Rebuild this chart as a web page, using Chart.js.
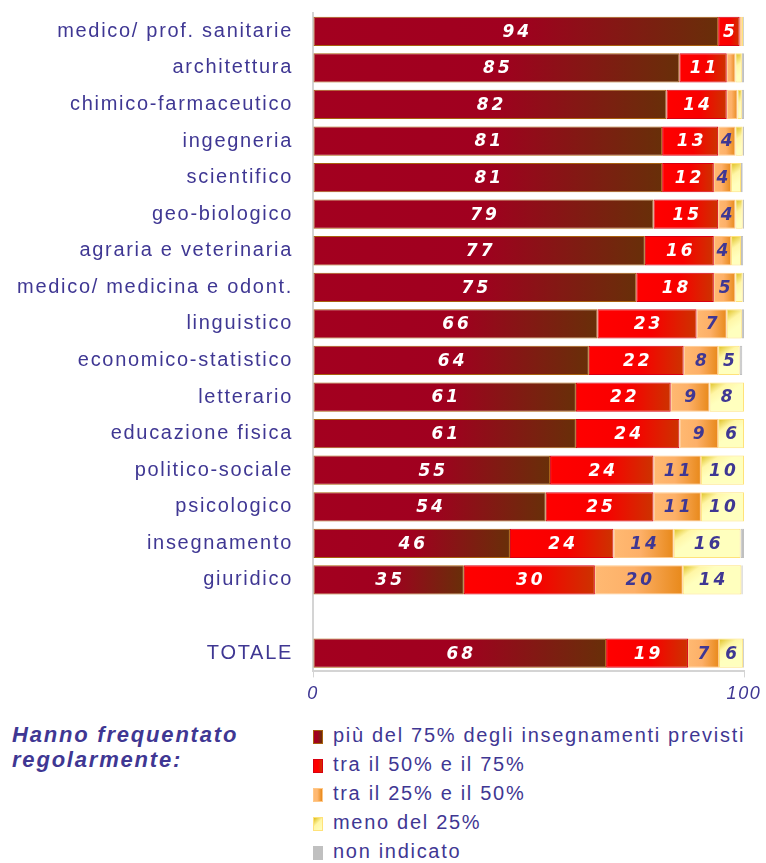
<!DOCTYPE html>
<html>
<head>
<meta charset="utf-8">
<script src="https://cdn.jsdelivr.net/npm/chart.js@4.4.1/dist/chart.umd.min.js"></script>
<style>
  body { margin: 0; background: #fff; }
  #wrap { position: relative; width: 766px; height: 863px; }
  #box { position: absolute; left: 0; top: 0; width: 766px; height: 713px; }
  #title {
    position: absolute; left: 12px; top: 722px;
    font: italic bold 22px "Liberation Sans", Arial, sans-serif;
    letter-spacing: 1.8px; line-height: 25px; color: #3f3793;
  }
  .item {
    position: absolute; left: 313px; height: 29px;
    font: 20px "Liberation Sans", Arial, sans-serif;
    letter-spacing: 1.7px; color: #3f3793; white-space: nowrap;
  }
  .item span {
    position: absolute; left: 0; top: 7px; width: 10px; height: 14px;
    box-sizing: border-box;
  }
  .item b { position: absolute; left: 20px; top: 1px; font-weight: normal; }
</style>
</head>
<body>
<div id="wrap">
  <div id="box"><canvas id="grafico"></canvas></div>
  <div id="title">Hanno frequentato<br>regolarmente:</div>
  <div id="legenda"></div>
</div>
<script>
// Categorie (corsi di laurea)
var categorie = [
  "medico/ prof. sanitarie", "architettura", "chimico-farmaceutico", "ingegneria",
  "scientifico", "geo-biologico", "agraria e veterinaria", "medico/ medicina e odont.",
  "linguistico", "economico-statistico", "letterario", "educazione fisica",
  "politico-sociale", "psicologico", "insegnamento", "giuridico", "", "TOTALE"
];

// Serie (percentuali)
var oltre75 = [94, 85, 82, 81, 81, 79, 77, 75, 66, 64, 61, 61, 55, 54, 45.7, 35, null, 68];
var tra50e75 = [5, 11, 14, 13, 12, 15, 16, 18, 23, 22, 22, 24, 24, 25, 24, 30.4, null, 19];
var tra25e50 = [0.5, 2, 2.5, 4, 4, 4, 4, 5, 7, 8, 9, 9, 11, 11, 14, 20.4, null, 7.2];
var meno25 = [0.3, 1.5, 1, 1.7, 2.3, 1.7, 2.3, 1.7, 3.5, 5, 8, 6, 10, 10, 15.5, 13.6, null, 5.6];
var nonIndicato = [0.2, 0.5, 0.5, 0.3, 0.4, 0.3, 0.5, 0.3, 0.5, 0.6, 0, 0, 0, 0, 0.8, 0.3, null, 0.2];

var etichette = [
  "più del 75% degli insegnamenti previsti",
  "tra il 50% e il 75%",
  "tra il 25% e il 50%",
  "meno del 25%",
  "non indicato"
];
var tickAsse = [0, 100];

var blu = "#3f3793";
var font = '"Liberation Sans", Arial, sans-serif';

// Gradiente per ogni segmento, calcolato dalle scale
function gradiente(stops, diag) {
  return function (c) {
    var chart = c.chart;
    var last = stops[stops.length - 1][1];
    if (c.type !== "data" || !chart.chartArea || !chart.scales.x) return last;
    var i = c.dataIndex, d = c.datasetIndex;
    var start = 0;
    for (var k = 0; k < d; k++) start += chart.data.datasets[k].data[i] || 0;
    var v = chart.data.datasets[d].data[i] || 0;
    var x0 = chart.scales.x.getPixelForValue(start);
    var x1 = chart.scales.x.getPixelForValue(start + v);
    var g;
    if (diag) {
      var yc = chart.scales.y.getPixelForValue(i);
      g = chart.ctx.createLinearGradient(x0, yc - 15, x0 + 12, yc + 2);
    } else {
      g = chart.ctx.createLinearGradient(x0, 0, Math.max(x1, x0 + 1), 0);
    }
    stops.forEach(function (s) { g.addColorStop(s[0], s[1]); });
    return g;
  };
}

var stili = [
  { stops: [[0, "#a3001f"], [0.5, "#a0001f"], [1, "#682f09"]], bordo: "#a8600e", testo: "#ffffff" },
  { stops: [[0, "#ff0000"], [0.55, "#f80000"], [1, "#cc3300"]], bordo: "#d80010", testo: "#ffffff" },
  { stops: [[0, "#ffb972"], [0.45, "#fdb068"], [1, "#e8891a"]], bordo: "#ffc888", testo: blu },
  { stops: [[0, "#dcbc18"], [0.55, "#fff6a6"], [1, "#ffffbe"]], bordo: "#ffe27a", testo: blu, diag: true },
  { stops: [[0, "#c0c0c0"], [1, "#c0c0c0"]], bordo: "#c0c0c0", testo: blu }
];
var serie = [oltre75, tra50e75, tra25e50, meno25, nonIndicato];

var datasets = serie.map(function (dati, n) {
  return {
    label: etichette[n],
    data: dati,
    backgroundColor: gradiente(stili[n].stops, stili[n].diag),
    borderColor: stili[n].bordo,
    borderWidth: 1,
    borderSkipped: false,
    barPercentage: 0.8,
    categoryPercentage: 1
  };
});

// Etichette dei valori dentro le barre
var valoriPlugin = {
  id: "valori",
  beforeDraw: function (chart) {
    chart.ctx.letterSpacing = "1.7px";
  },
  afterDatasetsDraw: function (chart) {
    var ctx = chart.ctx;
    ctx.save();
    ctx.letterSpacing = "3px";
    ctx.font = 'italic bold 17px "DejaVu Sans", sans-serif';
    ctx.textAlign = "center";
    ctx.textBaseline = "middle";
    chart.data.datasets.forEach(function (ds, d) {
      if (d > 3) return;
      var meta = chart.getDatasetMeta(d);
      meta.data.forEach(function (el, i) {
        var v = ds.data[i];
        if (v == null || v < 4) return;
        ctx.fillStyle = stili[d].testo;
        ctx.fillText(String(Math.round(v)), (el.x + el.base) / 2 + 1.5, el.y + 1);
      });
    });
    ctx.restore();
  }
};

var ctx = document.getElementById("grafico").getContext("2d");
var grafico = new Chart(ctx, {
  type: "bar",
  data: { labels: categorie, datasets: datasets },
  plugins: [valoriPlugin],
  options: {
    indexAxis: "y",
    responsive: true,
    maintainAspectRatio: false,
    animation: false,
    layout: { padding: { left: 0, right: 22, top: 13, bottom: 2 } },
    plugins: { legend: { display: false }, tooltip: { enabled: false } },
    scales: {
      x: {
        stacked: true,
        min: 0,
        max: 100,
        afterBuildTicks: function (s) {
          s.ticks = tickAsse.map(function (v) { return { value: v }; });
        },
        grid: { display: true, drawOnChartArea: false, drawTicks: true, tickLength: 6, color: "#d4d4d4" },
        border: { display: true, color: "#d4d4d4", width: 2 },
        ticks: {
          color: blu,
          font: { family: font, size: 18, style: "italic" },
          padding: 6,
          maxRotation: 0
        }
      },
      y: {
        stacked: true,
        grid: { display: false },
        border: { display: true, color: "#d4d4d4", width: 2 },
        afterFit: function (s) {
          s.width = 313;
          s.paddingTop = 0;
          s.paddingBottom = 0;
        },
        ticks: {
          color: blu,
          font: { family: font, size: 20 },
          padding: 12,
          autoSkip: false
        }
      }
    }
  }
});

// Legenda HTML costruita dai dataset
var leg = document.getElementById("legenda");
var sfondi = [
  "linear-gradient(90deg,#a3001f 40%,#682f09)",
  "linear-gradient(90deg,#ff0000 50%,#cc3300)",
  "linear-gradient(90deg,#ffb972 40%,#e8891a)",
  "linear-gradient(135deg,#dcbc18,#fff6a6 45%,#ffffbe)",
  "#c0c0c0"
];
etichette.forEach(function (t, n) {
  var d = document.createElement("div");
  d.className = "item";
  d.style.top = (723 + n * 29) + "px";
  var sw = document.createElement("span");
  sw.style.background = sfondi[n];
  sw.style.border = "1px solid " + stili[n].bordo;
  var b = document.createElement("b");
  b.textContent = t;
  d.appendChild(sw);
  d.appendChild(b);
  leg.appendChild(d);
});
</script>
</body>
</html>
